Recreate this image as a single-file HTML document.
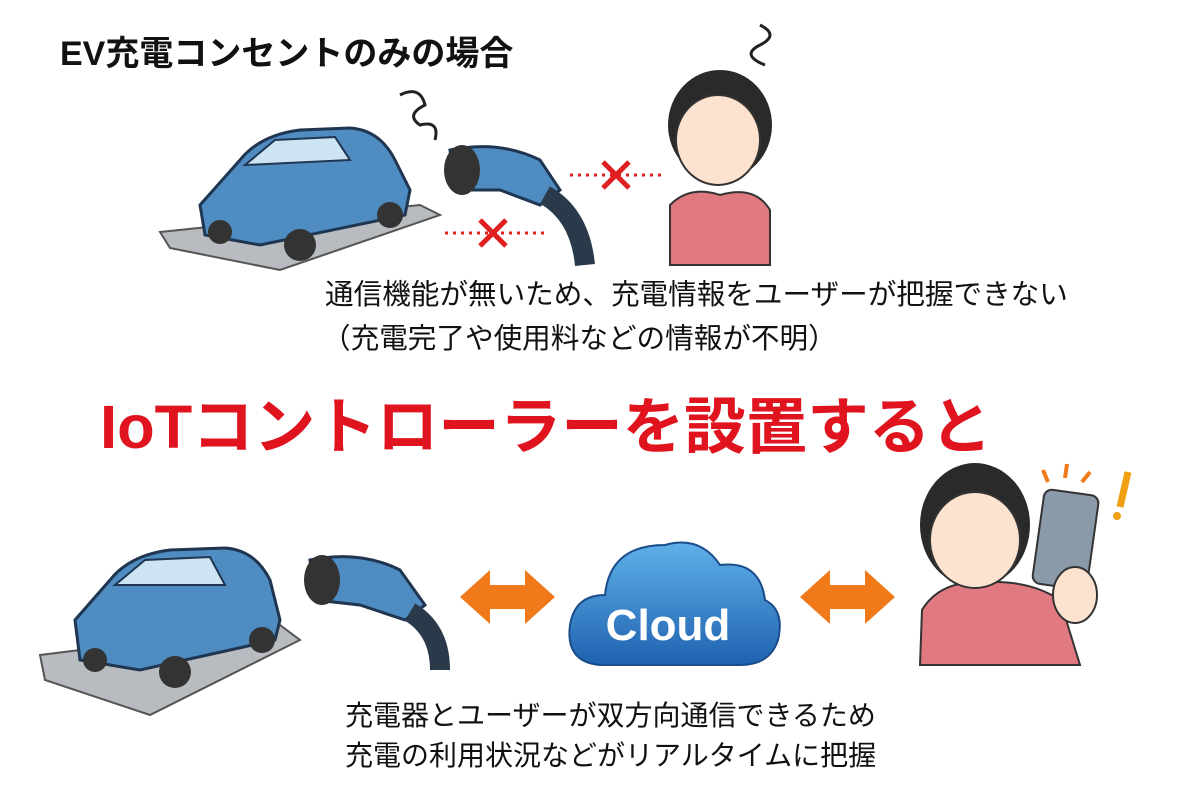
<!DOCTYPE html>
<html><head><meta charset="utf-8"><style>
body{margin:0;background:#fff;width:1200px;height:805px;overflow:hidden;position:relative;font-family:"Liberation Sans","Noto Sans CJK JP",sans-serif}
.t{position:absolute;white-space:nowrap;color:#111}
</style></head><body>
<svg width="1200" height="805" style="position:absolute;left:0;top:0">
<polygon points="160,232 420,205 440,215 280,270 170,248" fill="#b8bcc0" stroke="#555" stroke-width="2"/>
<path d="M200,205 L240,160 Q260,135 300,130 L350,128 Q380,130 395,160 L410,190 L405,215 L260,245 L205,235 Z" fill="#4f8cc2" stroke="#1f3550" stroke-width="3"/>
<path d="M245,165 L275,140 L335,137 L350,160 Z" fill="#cde4f2" stroke="#1f3550" stroke-width="2"/>
<circle cx="300" cy="245" r="16" fill="#333"/><circle cx="390" cy="215" r="13" fill="#333"/><circle cx="220" cy="232" r="12" fill="#333"/>
<path d="M400,95 q20,-10 25,10 q-20,10 -5,20 q20,-5 15,15" fill="none" stroke="#222" stroke-width="3"/>
<path d="M450,150 Q500,140 540,160 L560,190 L540,205 L500,190 L455,190 Z" fill="#4f8cc2" stroke="#1f3550" stroke-width="3"/>
<ellipse cx="462" cy="170" rx="18" ry="25" fill="#333"/>
<path d="M545,195 Q580,215 585,265" fill="none" stroke="#2a3a4a" stroke-width="20"/>
<line x1="570" y1="175" x2="665" y2="175" stroke="#e02020" stroke-width="3" stroke-dasharray="3,5"/>
<line x1="445" y1="233" x2="545" y2="233" stroke="#e02020" stroke-width="3" stroke-dasharray="3,5"/>
<path d="M603,162 l26,26 M629,162 l-26,26" stroke="#e02020" stroke-width="5"/>
<path d="M480,220 l26,26 M506,220 l-26,26" stroke="#e02020" stroke-width="5"/>
<path d="M760,25 q20,10 0,20 q-20,10 5,20" fill="none" stroke="#222" stroke-width="3"/>
<path d="M670,265 L670,205 Q690,185 720,195 Q755,185 770,210 L770,265 Z" fill="#e07a80" stroke="#333" stroke-width="2"/>
<ellipse cx="720" cy="125" rx="52" ry="55" fill="#2a2a2a"/>
<ellipse cx="718" cy="140" rx="42" ry="45" fill="#fde3cf" stroke="#333" stroke-width="2"/>
<path d="M680,105 Q720,70 762,110 L760,95 Q720,60 678,95Z" fill="#2a2a2a"/>
<polygon points="40,655 280,625 300,640 150,715 45,680" fill="#b8bcc0" stroke="#555" stroke-width="2"/>
<path d="M75,620 L110,580 Q130,555 170,550 L225,548 Q255,550 270,580 L280,620 L275,640 L140,670 L80,660 Z" fill="#4f8cc2" stroke="#1f3550" stroke-width="3"/>
<path d="M115,585 L145,560 L210,557 L225,585 Z" fill="#cde4f2" stroke="#1f3550" stroke-width="2"/>
<circle cx="175" cy="672" r="16" fill="#333"/><circle cx="262" cy="640" r="13" fill="#333"/><circle cx="95" cy="660" r="12" fill="#333"/>
<path d="M310,560 Q360,550 400,570 L425,605 L405,620 L360,605 L315,600 Z" fill="#4f8cc2" stroke="#1f3550" stroke-width="3"/>
<ellipse cx="322" cy="580" rx="18" ry="25" fill="#333"/>
<path d="M410,612 Q440,630 440,670" fill="none" stroke="#2a3a4a" stroke-width="20"/>
<polygon points="460,597 490,570 490,585 525,585 525,570 555,597 525,624 525,609 490,609 490,624" fill="#f07a1a"/>
<polygon points="800,597 830,570 830,585 865,585 865,570 895,597 865,624 865,609 830,609 830,624" fill="#f07a1a"/>
<defs><linearGradient id="g" x1="0" y1="0" x2="0" y2="1"><stop offset="0" stop-color="#5fb0e8"/><stop offset="1" stop-color="#1f62b0"/></linearGradient></defs>
<path d="M600,665 Q565,662 570,625 Q575,595 605,595 Q610,545 665,545 Q700,535 720,565 Q760,560 765,600 Q785,610 778,640 Q770,665 740,665 Z" fill="url(#g)" stroke="#1a4d8a" stroke-width="2"/>
<text x="668" y="640" text-anchor="middle" font-family="Liberation Sans" font-weight="bold" font-size="44" fill="#fff">Cloud</text>
<path d="M920,665 L922,610 Q940,580 985,582 Q1030,580 1060,600 L1080,665 Z" fill="#e07a80" stroke="#333" stroke-width="2"/>
<ellipse cx="975" cy="525" rx="55" ry="62" fill="#2a2a2a"/>
<ellipse cx="975" cy="540" rx="45" ry="48" fill="#fde3cf" stroke="#333" stroke-width="2"/>
<path d="M932,505 Q975,465 1020,510 L1018,490 Q975,455 930,490Z" fill="#2a2a2a"/>
<rect x="1038" y="492" width="55" height="95" rx="8" fill="#8a9aa8" stroke="#333" stroke-width="2" transform="rotate(8 1065 540)"/>
<ellipse cx="1075" cy="595" rx="22" ry="28" fill="#fde3cf" stroke="#333" stroke-width="2"/>
<path d="M1048,482 l-5,-12 M1065,478 l2,-14 M1082,482 l8,-10" stroke="#f07a1a" stroke-width="4"/>
<path d="M1128,472 l-8,35" stroke="#f0a010" stroke-width="7"/><circle cx="1117" cy="516" r="4" fill="#f0a010"/>
</svg>
<div class="t" style="left:60px;top:26px;font-size:34px;font-weight:bold">EV充電コンセントのみの場合</div>
<div class="t" style="left:325px;top:272px;font-size:28.6px">通信機能が無いため、充電情報をユーザーが把握できない</div>
<div class="t" style="left:322px;top:316px;font-size:28.6px">（充電完了や使用料などの情報が不明）</div>
<div class="t" style="left:100px;top:377px;font-size:61.5px;font-weight:bold;color:#e0141e">IoTコントローラーを設置すると</div>
<div class="t" style="left:345px;top:694px;font-size:28px">充電器とユーザーが双方向通信できるため</div>
<div class="t" style="left:345px;top:734px;font-size:28px">充電の利用状況などがリアルタイムに把握</div>
</body></html>
